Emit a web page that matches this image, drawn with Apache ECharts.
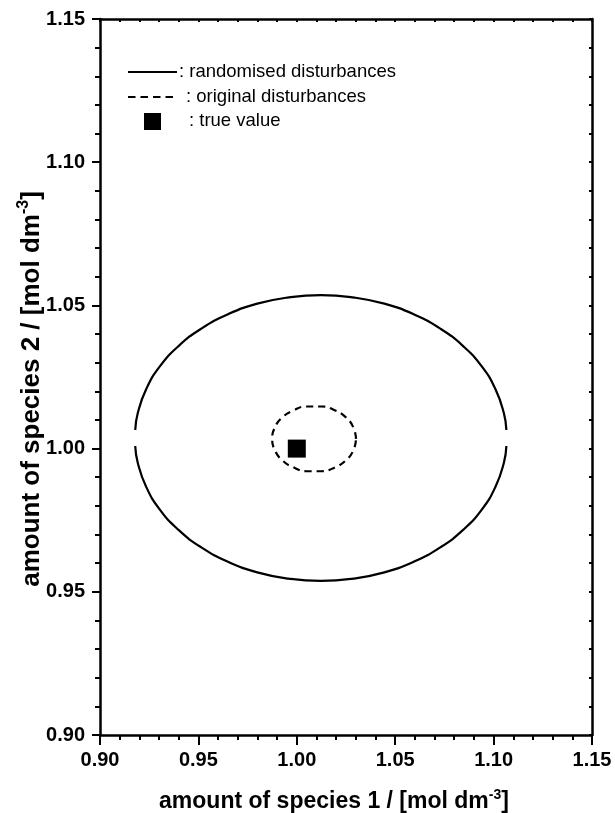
<!DOCTYPE html>
<html>
<head>
<meta charset="utf-8">
<script src="https://cdn.jsdelivr.net/npm/echarts@6/dist/echarts.min.js"></script>
<style>
  html, body { margin: 0; padding: 0; background: #fff; }
  #chart { width: 615px; height: 813px; }
</style>
</head>
<body>
<div id="chart"></div>
<script>
// Axis ranges and tick labels
const axisMin = 0.90;
const axisMax = 1.15;
const majorStep = 0.05;
const tickLabels = ['0.90', '0.95', '1.00', '1.05', '1.10', '1.15'];

// Confidence region from randomised disturbances (upper and lower arcs)
const randomisedUpper = [
  [0.9179, 1.0065], [0.9192, 1.0124], [0.9235, 1.0208], [0.9304, 1.0287],
  [0.9399, 1.0358], [0.9515, 1.0419], [0.9650, 1.0469], [0.9799, 1.0506],
  [0.9958, 1.0528], [1.0122, 1.0536], [1.0286, 1.0528], [1.0445, 1.0506],
  [1.0594, 1.0469], [1.0729, 1.0419], [1.0845, 1.0358], [1.0940, 1.0287],
  [1.1009, 1.0208], [1.1052, 1.0124], [1.1065, 1.0065]
];
const randomisedLower = [
  [0.9179, 1.0009], [0.9192, 0.9950], [0.9235, 0.9866], [0.9304, 0.9787],
  [0.9399, 0.9716], [0.9515, 0.9655], [0.9650, 0.9605], [0.9799, 0.9568],
  [0.9958, 0.9546], [1.0122, 0.9538], [1.0286, 0.9546], [1.0445, 0.9568],
  [1.0594, 0.9605], [1.0729, 0.9655], [1.0845, 0.9716], [1.0940, 0.9787],
  [1.1009, 0.9866], [1.1052, 0.9950], [1.1065, 1.0009]
];

// Confidence region from the original disturbances (closed loop)
const originalRegion = [
  [1.0301, 1.0034], [1.0288, 1.0073], [1.0251, 1.0108], [1.0195, 1.0133],
  [1.0125, 1.0147], [1.0051, 1.0147], [0.9982, 1.0133], [0.9925, 1.0108],
  [0.9888, 1.0073], [0.9875, 1.0034], [0.9888, 0.9995], [0.9925, 0.9960],
  [0.9982, 0.9935], [1.0051, 0.9921], [1.0125, 0.9921], [1.0195, 0.9935],
  [1.0251, 0.9960], [1.0288, 0.9995], [1.0301, 1.0034]
];

// True parameter values
const trueValue = [[1.00, 1.00]];

// Legend entries
const legendTexts = [': randomised disturbances', ': original disturbances', ': true value'];

const FONT = '"Liberation Sans", Arial, sans-serif';
const chart = echarts.init(document.getElementById('chart'), null, { renderer: 'canvas' });

function mainAxis(pos, nameText) {
  const isX = pos === 'bottom';
  const fs = isX ? 23 : 26;
  const lh = fs + 5;
  return {
    type: 'value',
    position: pos,
    min: axisMin,
    max: axisMax,
    interval: majorStep,
    axisLine: { show: true, onZero: false, lineStyle: { color: '#000', width: 2.5 } },
    axisTick: { show: true, inside: false, length: isX ? 10 : 8, lineStyle: { color: '#000', width: 2 } },
    minorTick: { show: true, splitNumber: 5, length: 5, lineStyle: { color: '#000', width: 2 } },
    splitLine: { show: false },
    axisLabel: {
      margin: 15,
      fontFamily: FONT, fontSize: 20, fontWeight: 'bold', color: '#000',
      formatter: v => tickLabels[Math.round((v - axisMin) / majorStep)]
    },
    name: '{t|' + nameText + '}{s|-3}{t|]}',
    nameLocation: 'middle',
    nameGap: isX ? 53 : 53,
    nameMoveOverlap: false,
    nameRotate: isX ? 0 : 90,
    nameTextStyle: {
      padding: [0, 24, 0, 0],
      rich: {
        t: { fontFamily: FONT, fontSize: fs, fontWeight: 'bold', color: '#000', lineHeight: lh },
        s: { fontFamily: FONT, fontSize: Math.round(fs * 0.6), fontWeight: 'bold', color: '#000', verticalAlign: 'top', lineHeight: lh, padding: [0, 0, Math.round(fs * 0.35), 0] }
      }
    }
  };
}

function frameAxis(pos) {
  return {
    type: 'value',
    position: pos,
    min: axisMin,
    max: axisMax,
    interval: 0.01,
    axisLine: { show: true, onZero: false, lineStyle: { color: '#000', width: 2.5 } },
    axisTick: { show: true, inside: true, length: 3, lineStyle: { color: '#000', width: 2 } },
    axisLabel: { show: false },
    splitLine: { show: false }
  };
}

const lineBase = { type: 'line', showSymbol: false, symbol: 'none', smooth: true, silent: true, z: 3 };

chart.setOption({
  animation: false,
  backgroundColor: '#fff',
  grid: { left: 100, right: 23, top: 19, bottom: 78, containLabel: false, outerBoundsMode: 'none' },
  xAxis: [mainAxis('bottom', 'amount of species 1 / [mol dm'), frameAxis('top')],
  yAxis: [mainAxis('left', 'amount of species 2 / [mol dm'), frameAxis('right')],
  series: [
    Object.assign({}, lineBase, { name: 'randomised upper', data: randomisedUpper, lineStyle: { color: '#000', width: 2.2 } }),
    Object.assign({}, lineBase, { name: 'randomised lower', data: randomisedLower, lineStyle: { color: '#000', width: 2.2 } }),
    Object.assign({}, lineBase, { name: 'original', data: originalRegion, lineStyle: { color: '#000', width: 2.2, type: [7, 5] } }),
    { type: 'scatter', name: 'true value', data: trueValue, symbol: 'rect', symbolSize: 18, itemStyle: { color: '#000', opacity: 1 }, silent: true, z: 4 }
  ],
  graphic: [
    { type: 'line', shape: { x1: 128, y1: 72, x2: 177, y2: 72 }, style: { stroke: '#000', lineWidth: 2.2 } },
    { type: 'line', shape: { x1: 128, y1: 97, x2: 177, y2: 97 }, style: { stroke: '#000', lineWidth: 2.2, lineDash: [7.5, 5] } },
    { type: 'rect', shape: { x: 144, y: 113, width: 17, height: 17 }, style: { fill: '#000' } },
    { type: 'text', x: 179, y: 72, style: { text: legendTexts[0], font: '18.5px ' + FONT, fill: '#000', verticalAlign: 'middle' } },
    { type: 'text', x: 186, y: 97, style: { text: legendTexts[1], font: '18.5px ' + FONT, fill: '#000', verticalAlign: 'middle' } },
    { type: 'text', x: 189, y: 121, style: { text: legendTexts[2], font: '18.5px ' + FONT, fill: '#000', verticalAlign: 'middle' } }
  ]
});
</script>
</body>
</html>
